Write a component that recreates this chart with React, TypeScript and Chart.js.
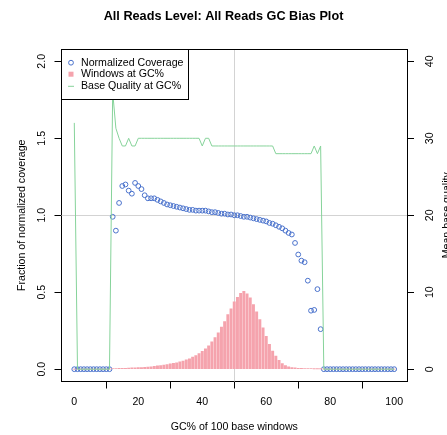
import React, { useEffect, useRef } from "react";
import { Chart, registerables } from "chart.js";

Chart.register(...registerables);

// ---------- data ----------
const gcPercent = [
  0, 1, 2, 3, 4, 5, 6, 7, 8, 9, 10, 11, 12, 13, 14, 15, 16, 17, 18, 19, 20,
  21, 22, 23, 24, 25, 26, 27, 28, 29, 30, 31, 32, 33, 34, 35, 36, 37, 38, 39, 40,
  41, 42, 43, 44, 45, 46, 47, 48, 49, 50, 51, 52, 53, 54, 55, 56, 57, 58, 59, 60,
  61, 62, 63, 64, 65, 66, 67, 68, 69, 70, 71, 72, 73, 74, 75, 76, 77, 78, 79, 80,
  81, 82, 83, 84, 85, 86, 87, 88, 89, 90, 91, 92, 93, 94, 95, 96, 97, 98, 99, 100,
];

const normalizedCoverage = [
  0, 0, 0, 0, 0, 0, 0, 0, 0, 0, 0, 0, // 0-11
  0.99, 0.9, 1.08, 1.19, 1.2, 1.16, 1.14, 1.21, 1.19, 1.17, // 12-21
  1.13, 1.11, 1.11, 1.11, 1.1, 1.09, 1.08, 1.07, 1.065, 1.06, // 22-31
  1.055, 1.05, 1.045, 1.04, 1.035, 1.035, 1.03, 1.03, 1.03, 1.03, // 32-41
  1.025, 1.02, 1.02, 1.015, 1.01, 1.01, 1.005, 1.005, 1.0, 1.0, // 42-51
  0.995, 0.99, 0.99, 0.985, 0.98, 0.975, 0.97, 0.965, 0.96, 0.95, // 52-61
  0.945, 0.935, 0.925, 0.915, 0.9, 0.885, 0.875, 0.82, 0.745, 0.705, // 62-71
  0.695, 0.575, 0.38, 0.385, 0.52, 0.26, // 72-77
  0, 0, 0, 0, 0, 0, 0, 0, 0, 0, 0, 0, 0, 0, 0, 0, 0, 0, 0, 0, 0, 0, 0, // 78-100
];

const windowsAtGc = [
  0, 0, 0, 0, 0, 0, 0, 0, 0, 0, 0, 0, // 0-11
  0.004, 0.004, 0.005, 0.005, 0.006, 0.007, 0.008, 0.009, 0.01, 0.011, // 12-21
  0.012, 0.014, 0.016, 0.018, 0.021, 0.024, 0.027, 0.03, 0.034, 0.038, // 22-31
  0.042, 0.047, 0.053, 0.06, 0.068, 0.078, 0.089, 0.102, 0.116, 0.133, // 32-41
  0.152, 0.177, 0.205, 0.236, 0.273, 0.31, 0.355, 0.392, 0.437, 0.467, // 42-51
  0.493, 0.506, 0.49, 0.463, 0.42, 0.372, 0.322, 0.268, 0.214, 0.162, // 52-61
  0.118, 0.085, 0.058, 0.037, 0.024, 0.016, 0.011, 0.008, 0.006, 0.005, // 62-71
  0.004, 0.003, 0.003, 0.002, 0.002, 0.002, // 72-77
  0, 0, 0, 0, 0, 0, 0, 0, 0, 0, 0, 0, 0, 0, 0, 0, 0, 0, 0, 0, 0, 0, 0, // 78-100
];

const baseQuality = [
  32, 0, 0, 0, 0, 0, 0, 0, 0, 0, 0, 0, // 0-11
  36, 31.3, 30, 29, 29, 30, 29, 29, 30, 30, // 12-21
  30, 30, 30, 30, 30, 30, 30, 30, 30, 30, // 22-31
  30, 30, 30, 30, 30, 30, 30, 30, 29, 30, // 32-41
  30, 29, 29, 29, 29, 29, 29, 29, 29, 29, // 42-51
  29, 29, 29, 29, 29, 29, 29, 29, 29, 29, // 52-61
  29, 28, 28, 28, 28, 28, 28, 28, 28, 28, // 62-71
  28, 28, 28, 29, 28, 29, // 72-77
  0, 0, 0, 0, 0, 0, 0, 0, 0, 0, 0, 0, 0, 0, 0, 0, 0, 0, 0, 0, 0, 0, 0, // 78-100
];

const xTicks = [0, 20, 40, 60, 80, 100];
const coverageTicks = [0, 0.5, 1.0, 1.5, 2.0];
const qualityTicks = [0, 10, 20, 30, 40];
const referenceGc = 50;
const referenceCoverage = 1.0;

const chartTitle = "All Reads Level: All Reads GC Bias Plot";
const xTitle = "GC% of 100 base windows";
const yTitle = "Fraction of normalized coverage";
const y2Title = "Mean base quality";
const legendLabels = ["Normalized Coverage", "Windows at GC%", "Base Quality at GC%"];

// ---------- styles ----------
const FONT = "'Liberation Sans', Arial, Helvetica, sans-serif";
const BLUE = "#4a72cc";
const PINK = "#f5a3ad";
const GREEN = "#86d39a";
const GUIDE = "#d3d3d3";

const ap = (v: number) => Math.round(v - 0.5) + 0.5;

const overlayPlugin = {
  id: "overlay",
  beforeDatasetsDraw(chart: any) {
    const { ctx, chartArea, scales } = chart;
    const { left, right, top, bottom } = chartArea;
    ctx.save();
    ctx.strokeStyle = GUIDE;
    ctx.lineWidth = 1;
    const gx = ap(scales.x.getPixelForValue(referenceGc));
    const gy = ap(scales.y.getPixelForValue(referenceCoverage));
    ctx.beginPath();
    ctx.moveTo(gx, top);
    ctx.lineTo(gx, bottom);
    ctx.moveTo(left, gy);
    ctx.lineTo(right, gy);
    ctx.stroke();
    ctx.restore();
  },
  afterDraw(chart: any) {
    const { ctx, chartArea } = chart;
    const { left, right, top, bottom } = chartArea;
    const L = ap(left);
    const R = ap(right);
    const T = ap(top);
    ctx.save();
    ctx.strokeStyle = "#000";
    ctx.lineWidth = 1;
    // top edge of the plot box (other edges are the axis borders)
    ctx.beginPath();
    ctx.moveTo(L - 0.5, T);
    ctx.lineTo(R + 0.5, T);
    ctx.stroke();

    // legend
    const lw = 127;
    const lh = 50;
    ctx.fillStyle = "#fff";
    ctx.fillRect(L, T, lw, lh);
    ctx.strokeStyle = "#000";
    ctx.strokeRect(L, T, lw, lh);
    const rows = [62.7, 74.2, 85.8];
    const sx = 71;
    ctx.strokeStyle = BLUE;
    ctx.lineWidth = 1;
    ctx.beginPath();
    ctx.arc(sx, rows[0], 2.4, 0, Math.PI * 2);
    ctx.stroke();
    ctx.fillStyle = PINK;
    ctx.fillRect(sx - 2.5, rows[1] - 2.5, 5, 5);
    ctx.strokeStyle = GREEN;
    ctx.beginPath();
    ctx.moveTo(sx - 3, rows[2] + 0.5);
    ctx.lineTo(sx + 3, rows[2] + 0.5);
    ctx.stroke();
    ctx.fillStyle = "#000";
    ctx.font = `10.6px ${FONT}`;
    ctx.textAlign = "left";
    ctx.textBaseline = "middle";
    legendLabels.forEach((t, i) => ctx.fillText(t, 81, rows[i]));

    // axis titles
    ctx.textAlign = "center";
    ctx.fillText(xTitle, (left + right) / 2, 426.7);
    ctx.save();
    ctx.translate(22, (top + bottom) / 2);
    ctx.rotate(-Math.PI / 2);
    ctx.fillText(yTitle, 0, 0);
    ctx.restore();
    ctx.save();
    ctx.translate(447, (top + bottom) / 2);
    ctx.rotate(-Math.PI / 2);
    ctx.fillText(y2Title, 0, 0);
    ctx.restore();
    ctx.restore();
  },
};

export default function App() {
  const canvasRef = useRef<HTMLCanvasElement | null>(null);

  useEffect(() => {
    const canvas = canvasRef.current;
    if (!canvas) return;

    const coveragePoints = gcPercent.map((g, i) => ({ x: g, y: normalizedCoverage[i] }));
    const windowBars = gcPercent.map((g, i) => ({ x: g, y: windowsAtGc[i] }));
    const qualityLine = gcPercent.map((g, i) => ({ x: g, y: baseQuality[i] }));

    const tickFont = { family: FONT, size: 10.6 };
    const axisGrid = { display: true, drawOnChartArea: false, drawTicks: true, tickLength: 7, color: "#000", tickColor: "#000", lineWidth: 1 };
    const axisBorder = { display: true, color: "#000", width: 1 };

    const chart = new Chart(canvas, {
      type: "scatter",
      data: {
        datasets: [
          {
            type: "scatter",
            label: legendLabels[0],
            data: coveragePoints,
            xAxisID: "x",
            yAxisID: "y",
            pointStyle: "circle",
            pointRadius: 2.4,
            pointBorderWidth: 1,
            pointBackgroundColor: "rgba(0,0,0,0)",
            pointBorderColor: BLUE,
            order: 3,
          } as any,
          {
            type: "bar",
            label: legendLabels[1],
            data: windowBars,
            xAxisID: "x",
            yAxisID: "y",
            backgroundColor: PINK,
            borderWidth: 0,
            barThickness: 2.3,
            order: 2,
          } as any,
          {
            type: "line",
            label: legendLabels[2],
            data: qualityLine,
            xAxisID: "x",
            yAxisID: "y2",
            borderColor: GREEN,
            borderWidth: 1,
            pointRadius: 0,
            tension: 0,
            fill: false,
            order: 1,
          } as any,
        ],
      },
      options: {
        animation: false,
        responsive: false,
        maintainAspectRatio: false,
        events: [],
        layout: { padding: 0, autoPadding: false },
        plugins: {
          legend: { display: false },
          title: {
            display: true,
            text: chartTitle,
            color: "#000",
            font: { family: FONT, size: 12.7, weight: "bold", lineHeight: 1.2 },
            padding: { top: 8.4, bottom: 25.36 },
          },
          tooltip: { enabled: false },
        },
        scales: {
          x: {
            type: "linear",
            position: "bottom",
            min: -4,
            max: 104,
            offset: false,
            afterBuildTicks: (s: any) => {
              s.ticks = xTicks.map((v) => ({ value: v }));
            },
            afterFit: (s: any) => {
              s.height = 53.5;
            },
            grid: axisGrid,
            border: axisBorder,
            ticks: { color: "#000", font: tickFont, padding: 7, maxRotation: 0, minRotation: 0, autoSkip: false, callback: (v: any) => String(v) },
          },
          y: {
            type: "linear",
            position: "left",
            min: -0.08,
            max: 2.08,
            afterBuildTicks: (s: any) => {
              s.ticks = coverageTicks.map((v) => ({ value: v }));
            },
            afterFit: (s: any) => {
              s.width = 61.5;
            },
            grid: axisGrid,
            border: axisBorder,
            ticks: {
              color: "#000",
              font: tickFont,
              padding: 5.5,
              minRotation: 90,
              maxRotation: 90,
              crossAlign: "center",
              autoSkip: false,
              callback: (v: any) => Number(v).toFixed(1),
            },
          },
          y2: {
            type: "linear",
            position: "right",
            min: -1.6,
            max: 41.6,
            afterBuildTicks: (s: any) => {
              s.ticks = qualityTicks.map((v) => ({ value: v }));
            },
            afterFit: (s: any) => {
              s.width = 40;
            },
            grid: axisGrid,
            border: axisBorder,
            ticks: {
              color: "#000",
              font: tickFont,
              padding: 10,
              minRotation: 90,
              maxRotation: 90,
              crossAlign: "center",
              autoSkip: false,
              callback: (v: any) => String(v),
            },
          },
        },
      } as any,
      plugins: [overlayPlugin],
    });

    return () => chart.destroy();
  }, []);

  return (
    <div style={{ position: "fixed", left: 0, top: 0, width: 447, height: 435, background: "#fff" }}>
      <canvas ref={canvasRef} width={447} height={435} style={{ display: "block", width: 447, height: 435 }} />
    </div>
  );
}
